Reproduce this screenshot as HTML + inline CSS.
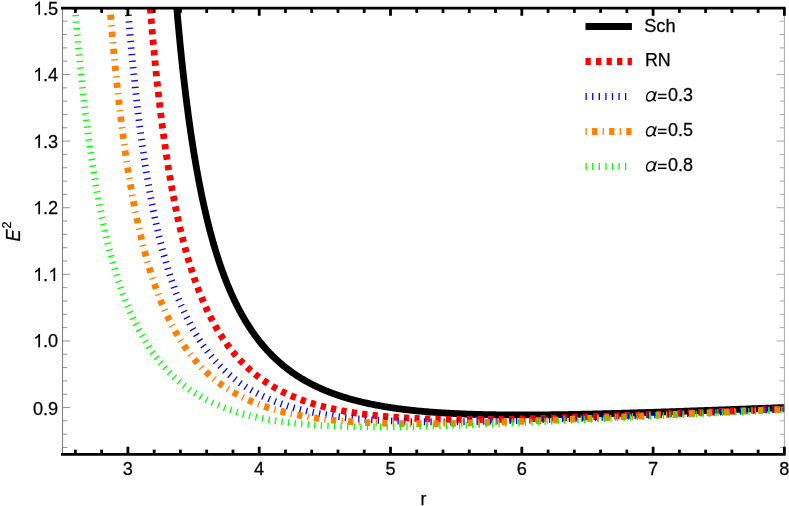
<!DOCTYPE html>
<html><head><meta charset="utf-8"><title>E2 vs r</title>
<style>
html,body{margin:0;padding:0;background:#fff;}
body{width:789px;height:506px;overflow:hidden;}
svg{display:block;will-change:transform;}
text{font-family:"Liberation Sans",sans-serif;fill:#000;stroke:#000;stroke-width:0.25px;}
</style></head><body>
<svg width="789" height="506" viewBox="0 0 789 506">
<rect width="789" height="506" fill="#fff"/>
<defs><clipPath id="pc"><rect x="62.25" y="7.89" width="722.45" height="446.29"/></clipPath></defs>
<g fill="none" stroke-width="6.8" stroke-linejoin="round" clip-path="url(#pc)">
<path d="M176.78 7.89 L176.78 7.89 L176.78 7.91 L176.78 7.93 L176.79 7.97 L176.79 8.02 L176.80 8.09 L176.80 8.17 L176.81 8.27 L176.82 8.38 L176.83 8.51 L176.85 8.65 L176.86 8.81 L176.88 8.99 L176.89 9.18 L176.91 9.39 L176.93 9.62 L176.95 9.87 L176.97 10.13 L177.00 10.41 L177.02 10.71 L177.05 11.03 L177.08 11.37 L177.11 11.72 L177.15 12.09 L177.18 12.48 L177.22 12.89 L177.25 13.32 L177.29 13.77 L177.33 14.24 L177.38 14.72 L177.42 15.23 L177.47 15.75 L177.52 16.29 L177.57 16.85 L177.62 17.43 L177.67 18.03 L177.73 18.65 L177.78 19.29 L177.84 19.94 L177.90 20.62 L177.97 21.31 L178.03 22.02 L178.10 22.75 L178.17 23.50 L178.24 24.27 L178.31 25.05 L178.38 25.86 L178.46 26.68 L178.54 27.52 L178.62 28.38 L178.70 29.25 L178.78 30.15 L178.87 31.06 L178.95 31.99 L179.04 32.94 L179.13 33.90 L179.23 34.88 L179.32 35.88 L179.42 36.89 L179.52 37.93 L179.62 38.97 L179.73 40.04 L179.83 41.12 L179.94 42.22 L180.05 43.33 L180.16 44.46 L180.27 45.60 L180.39 46.76 L180.51 47.94 L180.63 49.12 L180.75 50.33 L180.87 51.55 L181.00 52.78 L181.13 54.03 L181.26 55.29 L181.39 56.56 L181.52 57.85 L181.66 59.15 L181.80 60.47 L181.94 61.80 L182.08 63.14 L182.23 64.49 L182.37 65.85 L182.52 67.23 L182.68 68.62 L182.83 70.02 L182.99 71.43 L183.14 72.85 L183.30 74.28 L183.47 75.73 L183.63 77.18 L183.80 78.65 L183.97 80.12 L184.14 81.60 L184.31 83.10 L184.49 84.60 L184.66 86.11 L184.84 87.63 L185.03 89.15 L185.21 90.69 L185.40 92.23 L185.58 93.79 L185.78 95.34 L185.97 96.91 L186.16 98.48 L186.36 100.06 L186.56 101.65 L186.76 103.24 L186.97 104.84 L187.18 106.44 L187.39 108.05 L187.60 109.67 L187.81 111.29 L188.03 112.91 L188.24 114.54 L188.46 116.18 L188.69 117.82 L188.91 119.46 L189.14 121.10 L189.37 122.75 L189.60 124.41 L189.84 126.06 L190.07 127.72 L190.31 129.38 L190.55 131.04 L190.80 132.71 L191.04 134.38 L191.29 136.05 L191.54 137.72 L191.79 139.39 L192.05 141.06 L192.31 142.74 L192.57 144.41 L192.83 146.09 L193.09 147.76 L193.36 149.44 L193.63 151.12 L193.90 152.79 L194.18 154.47 L194.45 156.15 L194.73 157.82 L195.01 159.49 L195.30 161.17 L195.58 162.84 L195.87 164.51 L196.16 166.18 L196.45 167.84 L196.75 169.51 L197.05 171.17 L197.35 172.83 L197.65 174.49 L197.96 176.15 L198.26 177.80 L198.57 179.45 L198.89 181.10 L199.20 182.74 L199.52 184.38 L199.84 186.02 L200.16 187.65 L200.49 189.29 L200.81 190.91 L201.14 192.54 L201.47 194.15 L201.81 195.77 L202.15 197.38 L202.49 198.99 L202.83 200.59 L203.17 202.19 L203.52 203.78 L203.87 205.37 L204.22 206.95 L204.57 208.53 L204.93 210.10 L205.29 211.67 L205.65 213.23 L206.02 214.79 L206.38 216.34 L206.75 217.89 L207.12 219.43 L207.50 220.96 L207.87 222.49 L208.25 224.02 L208.64 225.53 L209.02 227.05 L209.41 228.55 L209.80 230.05 L210.19 231.54 L210.58 233.03 L210.98 234.51 L211.38 235.99 L211.78 237.45 L212.18 238.91 L212.59 240.37 L213.00 241.82 L213.41 243.26 L213.83 244.69 L214.24 246.12 L214.66 247.54 L215.09 248.96 L215.51 250.36 L215.94 251.76 L216.37 253.16 L216.80 254.54 L217.24 255.92 L217.67 257.29 L218.11 258.66 L218.56 260.02 L219.00 261.37 L219.45 262.71 L219.90 264.05 L220.35 265.38 L220.81 266.70 L221.27 268.01 L221.73 269.32 L222.19 270.62 L222.66 271.91 L223.12 273.20 L223.60 274.48 L224.07 275.75 L224.55 277.01 L225.02 278.27 L225.51 279.51 L225.99 280.76 L226.48 281.99 L226.97 283.21 L227.46 284.43 L227.95 285.64 L228.45 286.85 L228.95 288.04 L229.45 289.23 L229.96 290.41 L230.47 291.59 L230.98 292.75 L231.49 293.91 L232.00 295.06 L232.52 296.21 L233.04 297.34 L233.57 298.47 L234.09 299.59 L234.62 300.71 L235.15 301.82 L235.69 302.91 L236.23 304.01 L236.77 305.09 L237.31 306.17 L237.85 307.24 L238.40 308.30 L238.95 309.36 L239.50 310.40 L240.06 311.44 L240.62 312.48 L241.18 313.50 L241.74 314.52 L242.31 315.53 L242.88 316.54 L243.45 317.54 L244.02 318.53 L244.60 319.51 L245.18 320.48 L245.76 321.45 L246.35 322.41 L246.93 323.37 L247.52 324.32 L248.12 325.26 L248.71 326.19 L249.31 327.12 L249.91 328.04 L250.52 328.95 L251.12 329.85 L251.73 330.75 L252.34 331.64 L252.96 332.53 L253.58 333.41 L254.20 334.28 L254.82 335.14 L255.45 336.00 L256.07 336.85 L256.71 337.70 L257.34 338.54 L257.98 339.37 L258.61 340.19 L259.26 341.01 L259.90 341.82 L260.55 342.63 L261.20 343.43 L261.85 344.22 L262.51 345.01 L263.17 345.79 L263.83 346.56 L264.49 347.33 L265.16 348.09 L265.83 348.84 L266.50 349.59 L267.18 350.33 L267.85 351.07 L268.53 351.80 L269.22 352.52 L269.90 353.24 L270.59 353.95 L271.28 354.66 L271.98 355.36 L272.68 356.05 L273.38 356.74 L274.08 357.42 L274.78 358.10 L275.49 358.77 L276.20 359.43 L276.92 360.09 L277.63 360.75 L278.35 361.39 L279.08 362.04 L279.80 362.67 L280.53 363.30 L281.26 363.93 L281.99 364.55 L282.73 365.16 L283.47 365.77 L284.21 366.37 L284.95 366.97 L285.70 367.56 L286.45 368.15 L287.20 368.73 L287.96 369.31 L288.72 369.88 L289.48 370.45 L290.25 371.01 L291.01 371.56 L291.78 372.11 L292.56 372.66 L293.33 373.20 L294.11 373.74 L294.89 374.27 L295.67 374.79 L296.46 375.31 L297.25 375.83 L298.04 376.34 L298.84 376.85 L299.64 377.35 L300.44 377.84 L301.24 378.34 L302.05 378.82 L302.86 379.30 L303.67 379.78 L304.49 380.26 L305.30 380.72 L306.13 381.19 L306.95 381.65 L307.78 382.10 L308.61 382.55 L309.44 383.00 L310.27 383.44 L311.11 383.88 L311.95 384.31 L312.80 384.74 L313.64 385.17 L314.49 385.59 L315.35 386.00 L316.20 386.41 L317.06 386.82 L317.92 387.22 L318.78 387.62 L319.65 388.02 L320.52 388.41 L321.39 388.80 L322.27 389.18 L323.15 389.56 L324.03 389.94 L324.91 390.31 L325.80 390.67 L326.69 391.04 L327.58 391.40 L328.48 391.75 L329.38 392.11 L330.28 392.45 L331.18 392.80 L332.09 393.14 L333.00 393.48 L333.91 393.81 L334.83 394.14 L335.75 394.47 L336.67 394.79 L337.59 395.11 L338.52 395.43 L339.45 395.74 L340.39 396.05 L341.32 396.35 L342.26 396.65 L343.20 396.95 L344.15 397.25 L345.10 397.54 L346.05 397.83 L347.00 398.11 L347.96 398.40 L348.92 398.67 L349.88 398.95 L350.85 399.22 L351.81 399.49 L352.79 399.76 L353.76 400.02 L354.74 400.28 L355.72 400.54 L356.70 400.79 L357.69 401.04 L358.68 401.29 L359.67 401.53 L360.66 401.78 L361.66 402.02 L362.66 402.25 L363.66 402.48 L364.67 402.71 L365.68 402.94 L366.69 403.17 L367.71 403.39 L368.73 403.61 L369.75 403.82 L370.77 404.04 L371.80 404.25 L372.83 404.45 L373.87 404.66 L374.90 404.86 L375.94 405.06 L376.98 405.26 L378.03 405.45 L379.08 405.65 L380.13 405.84 L381.18 406.02 L382.24 406.21 L383.30 406.39 L384.36 406.57 L385.43 406.75 L386.50 406.92 L387.57 407.09 L388.64 407.26 L389.72 407.43 L390.80 407.60 L391.89 407.76 L392.97 407.92 L394.06 408.08 L395.16 408.23 L396.25 408.39 L397.35 408.54 L398.45 408.69 L399.56 408.83 L400.67 408.98 L401.78 409.12 L402.89 409.26 L404.01 409.40 L405.13 409.54 L406.25 409.67 L407.38 409.80 L408.50 409.93 L409.64 410.06 L410.77 410.19 L411.91 410.31 L413.05 410.43 L414.19 410.55 L415.34 410.67 L416.49 410.78 L417.64 410.90 L418.80 411.01 L419.96 411.12 L421.12 411.23 L422.29 411.33 L423.45 411.44 L424.62 411.54 L425.80 411.64 L426.98 411.74 L428.16 411.84 L429.34 411.93 L430.53 412.03 L431.71 412.12 L432.91 412.21 L434.10 412.30 L435.30 412.38 L436.50 412.47 L437.71 412.55 L438.91 412.63 L440.12 412.71 L441.34 412.79 L442.55 412.87 L443.77 412.94 L445.00 413.01 L446.22 413.09 L447.45 413.16 L448.68 413.23 L449.92 413.29 L451.16 413.36 L452.40 413.42 L453.64 413.48 L454.89 413.55 L456.14 413.60 L457.39 413.66 L458.65 413.72 L459.91 413.77 L461.17 413.83 L462.44 413.88 L463.70 413.93 L464.98 413.98 L466.25 414.03 L467.53 414.08 L468.81 414.12 L470.09 414.17 L471.38 414.21 L472.67 414.25 L473.96 414.29 L475.26 414.33 L476.56 414.37 L477.86 414.40 L479.17 414.44 L480.47 414.47 L481.79 414.50 L483.10 414.53 L484.42 414.56 L485.74 414.59 L487.06 414.62 L488.39 414.65 L489.72 414.67 L491.05 414.70 L492.39 414.72 L493.73 414.74 L495.07 414.76 L496.42 414.78 L497.77 414.80 L499.12 414.82 L500.47 414.83 L501.83 414.85 L503.19 414.86 L504.56 414.88 L505.92 414.89 L507.29 414.90 L508.67 414.91 L510.04 414.92 L511.42 414.92 L512.81 414.93 L514.19 414.94 L515.58 414.94 L516.97 414.95 L518.37 414.95 L519.77 414.95 L521.17 414.95 L522.57 414.95 L523.98 414.95 L525.39 414.95 L526.81 414.95 L528.22 414.94 L529.64 414.94 L531.07 414.93 L532.49 414.92 L533.92 414.92 L535.36 414.91 L536.79 414.90 L538.23 414.89 L539.67 414.88 L541.12 414.87 L542.57 414.86 L544.02 414.84 L545.47 414.83 L546.93 414.81 L548.39 414.80 L549.86 414.78 L551.32 414.76 L552.79 414.75 L554.27 414.73 L555.74 414.71 L557.22 414.69 L558.71 414.67 L560.19 414.65 L561.68 414.62 L563.17 414.60 L564.67 414.58 L566.17 414.55 L567.67 414.53 L569.17 414.50 L570.68 414.47 L572.19 414.45 L573.71 414.42 L575.23 414.39 L576.75 414.36 L578.27 414.33 L579.80 414.30 L581.33 414.27 L582.86 414.24 L584.40 414.20 L585.94 414.17 L587.48 414.14 L589.03 414.10 L590.58 414.07 L592.13 414.03 L593.68 414.00 L595.24 413.96 L596.80 413.92 L598.37 413.88 L599.94 413.85 L601.51 413.81 L603.08 413.77 L604.66 413.73 L606.24 413.69 L607.83 413.65 L609.41 413.60 L611.01 413.56 L612.60 413.52 L614.20 413.47 L615.80 413.43 L617.40 413.39 L619.01 413.34 L620.62 413.30 L622.23 413.25 L623.84 413.20 L625.46 413.16 L627.09 413.11 L628.71 413.06 L630.34 413.02 L631.97 412.97 L633.61 412.92 L635.25 412.87 L636.89 412.82 L638.53 412.77 L640.18 412.72 L641.83 412.67 L643.49 412.61 L645.14 412.56 L646.81 412.51 L648.47 412.46 L650.14 412.40 L651.81 412.35 L653.48 412.30 L655.16 412.24 L656.84 412.19 L658.52 412.13 L660.21 412.08 L661.90 412.02 L663.59 411.96 L665.29 411.91 L666.99 411.85 L668.69 411.79 L670.39 411.73 L672.10 411.68 L673.82 411.62 L675.53 411.56 L677.25 411.50 L678.97 411.44 L680.70 411.38 L682.43 411.32 L684.16 411.26 L685.89 411.20 L687.63 411.14 L689.37 411.08 L691.12 411.02 L692.86 410.95 L694.62 410.89 L696.37 410.83 L698.13 410.77 L699.89 410.70 L701.65 410.64 L703.42 410.58 L705.19 410.51 L706.96 410.45 L708.74 410.38 L710.52 410.32 L712.30 410.25 L714.09 410.19 L715.88 410.12 L717.67 410.06 L719.47 409.99 L721.27 409.92 L723.07 409.86 L724.88 409.79 L726.69 409.72 L728.50 409.66 L730.32 409.59 L732.14 409.52 L733.96 409.45 L735.78 409.39 L737.61 409.32 L739.45 409.25 L741.28 409.18 L743.12 409.11 L744.96 409.04 L746.81 408.97 L748.66 408.90 L750.51 408.83 L752.36 408.76 L754.22 408.69 L756.08 408.62 L757.95 408.55 L759.82 408.48 L761.69 408.41 L763.56 408.34 L765.44 408.27 L767.32 408.20 L769.21 408.13 L771.09 408.06 L772.98 407.98 L774.88 407.91 L776.78 407.84 L778.68 407.77 L780.58 407.70 L782.49 407.62 L784.40 407.55" stroke="#000"/>
<path d="M150.29 7.89 L150.29 7.89 L150.29 7.91 L150.29 7.94 L150.30 7.98 L150.30 8.04 L150.31 8.12 L150.31 8.21 L150.32 8.32 L150.33 8.44 L150.34 8.59 L150.36 8.75 L150.37 8.93 L150.39 9.13 L150.40 9.35 L150.42 9.58 L150.44 9.84 L150.47 10.12 L150.49 10.42 L150.52 10.73 L150.54 11.07 L150.57 11.43 L150.60 11.81 L150.63 12.21 L150.67 12.63 L150.70 13.07 L150.74 13.53 L150.78 14.02 L150.82 14.52 L150.87 15.05 L150.91 15.59 L150.96 16.16 L151.01 16.75 L151.06 17.36 L151.11 17.99 L151.16 18.64 L151.22 19.31 L151.28 20.01 L151.33 20.72 L151.40 21.46 L151.46 22.22 L151.53 22.99 L151.59 23.79 L151.66 24.61 L151.73 25.45 L151.81 26.31 L151.88 27.19 L151.96 28.09 L152.04 29.01 L152.12 29.95 L152.20 30.91 L152.29 31.89 L152.37 32.89 L152.46 33.91 L152.56 34.95 L152.65 36.01 L152.74 37.08 L152.84 38.18 L152.94 39.29 L153.04 40.42 L153.15 41.57 L153.25 42.74 L153.36 43.93 L153.47 45.13 L153.58 46.35 L153.70 47.59 L153.81 48.84 L153.93 50.11 L154.05 51.40 L154.18 52.70 L154.30 54.02 L154.43 55.36 L154.56 56.71 L154.69 58.07 L154.82 59.45 L154.96 60.85 L155.10 62.26 L155.24 63.68 L155.38 65.12 L155.53 66.57 L155.67 68.03 L155.82 69.51 L155.97 71.00 L156.13 72.50 L156.28 74.02 L156.44 75.54 L156.60 77.08 L156.76 78.63 L156.93 80.19 L157.10 81.77 L157.26 83.35 L157.44 84.94 L157.61 86.54 L157.79 88.16 L157.97 89.78 L158.15 91.41 L158.33 93.05 L158.51 94.70 L158.70 96.36 L158.89 98.02 L159.08 99.69 L159.28 101.37 L159.48 103.06 L159.68 104.76 L159.88 106.46 L160.08 108.16 L160.29 109.88 L160.50 111.60 L160.71 113.32 L160.92 115.05 L161.14 116.79 L161.35 118.53 L161.58 120.27 L161.80 122.02 L162.02 123.77 L162.25 125.53 L162.48 127.29 L162.71 129.05 L162.95 130.82 L163.19 132.58 L163.43 134.35 L163.67 136.13 L163.91 137.90 L164.16 139.68 L164.41 141.46 L164.66 143.24 L164.91 145.02 L165.17 146.80 L165.43 148.58 L165.69 150.36 L165.96 152.14 L166.22 153.93 L166.49 155.71 L166.76 157.49 L167.04 159.27 L167.31 161.05 L167.59 162.83 L167.87 164.60 L168.15 166.38 L168.44 168.15 L168.73 169.92 L169.02 171.69 L169.31 173.46 L169.61 175.22 L169.91 176.99 L170.21 178.75 L170.51 180.50 L170.82 182.25 L171.13 184.00 L171.44 185.75 L171.75 187.49 L172.07 189.23 L172.39 190.97 L172.71 192.70 L173.03 194.42 L173.36 196.14 L173.69 197.86 L174.02 199.57 L174.35 201.28 L174.69 202.98 L175.03 204.68 L175.37 206.37 L175.71 208.06 L176.06 209.74 L176.41 211.42 L176.76 213.09 L177.11 214.75 L177.47 216.41 L177.83 218.06 L178.19 219.71 L178.56 221.35 L178.92 222.98 L179.29 224.61 L179.67 226.23 L180.04 227.85 L180.42 229.45 L180.80 231.05 L181.18 232.65 L181.57 234.23 L181.95 235.81 L182.34 237.39 L182.74 238.95 L183.13 240.51 L183.53 242.06 L183.93 243.61 L184.34 245.14 L184.74 246.67 L185.15 248.19 L185.56 249.71 L185.98 251.21 L186.39 252.71 L186.81 254.20 L187.23 255.69 L187.66 257.16 L188.09 258.63 L188.52 260.09 L188.95 261.54 L189.38 262.98 L189.82 264.42 L190.26 265.85 L190.71 267.27 L191.15 268.68 L191.60 270.08 L192.05 271.48 L192.51 272.86 L192.96 274.24 L193.42 275.61 L193.88 276.98 L194.35 278.33 L194.82 279.68 L195.29 281.01 L195.76 282.34 L196.23 283.66 L196.71 284.98 L197.19 286.28 L197.68 287.58 L198.16 288.86 L198.65 290.14 L199.14 291.41 L199.64 292.68 L200.14 293.93 L200.64 295.18 L201.14 296.42 L201.64 297.65 L202.15 298.87 L202.66 300.08 L203.18 301.28 L203.69 302.48 L204.21 303.67 L204.73 304.85 L205.26 306.02 L205.78 307.18 L206.31 308.34 L206.85 309.48 L207.38 310.62 L207.92 311.75 L208.46 312.87 L209.00 313.99 L209.55 315.09 L210.10 316.19 L210.65 317.28 L211.21 318.36 L211.76 319.44 L212.32 320.50 L212.89 321.56 L213.45 322.61 L214.02 323.65 L214.59 324.68 L215.17 325.71 L215.74 326.73 L216.32 327.74 L216.91 328.74 L217.49 329.73 L218.08 330.72 L218.67 331.70 L219.26 332.67 L219.86 333.63 L220.46 334.59 L221.06 335.53 L221.67 336.47 L222.28 337.41 L222.89 338.33 L223.50 339.25 L224.12 340.16 L224.73 341.06 L225.36 341.96 L225.98 342.84 L226.61 343.72 L227.24 344.60 L227.87 345.46 L228.51 346.32 L229.15 347.17 L229.79 348.02 L230.43 348.85 L231.08 349.68 L231.73 350.51 L232.38 351.32 L233.04 352.13 L233.70 352.93 L234.36 353.73 L235.02 354.51 L235.69 355.30 L236.36 356.07 L237.03 356.84 L237.71 357.60 L238.39 358.35 L239.07 359.10 L239.75 359.84 L240.44 360.57 L241.13 361.30 L241.82 362.02 L242.52 362.74 L243.22 363.44 L243.92 364.15 L244.62 364.84 L245.33 365.53 L246.04 366.21 L246.76 366.89 L247.47 367.56 L248.19 368.22 L248.91 368.88 L249.64 369.53 L250.36 370.18 L251.09 370.82 L251.83 371.45 L252.56 372.08 L253.30 372.70 L254.05 373.31 L254.79 373.92 L255.54 374.53 L256.29 375.12 L257.04 375.72 L257.80 376.30 L258.56 376.88 L259.32 377.46 L260.09 378.03 L260.86 378.59 L261.63 379.15 L262.40 379.70 L263.18 380.25 L263.96 380.79 L264.74 381.33 L265.53 381.86 L266.32 382.39 L267.11 382.91 L267.90 383.42 L268.70 383.93 L269.50 384.44 L270.30 384.94 L271.11 385.43 L271.92 385.92 L272.73 386.41 L273.55 386.89 L274.37 387.36 L275.19 387.83 L276.01 388.30 L276.84 388.76 L277.67 389.21 L278.50 389.66 L279.34 390.11 L280.18 390.55 L281.02 390.99 L281.86 391.42 L282.71 391.84 L283.56 392.27 L284.42 392.69 L285.27 393.10 L286.13 393.51 L286.99 393.91 L287.86 394.31 L288.73 394.71 L289.60 395.10 L290.48 395.49 L291.35 395.87 L292.23 396.25 L293.12 396.62 L294.00 396.99 L294.89 397.36 L295.79 397.72 L296.68 398.08 L297.58 398.43 L298.48 398.78 L299.39 399.12 L300.29 399.46 L301.21 399.80 L302.12 400.14 L303.04 400.47 L303.96 400.79 L304.88 401.11 L305.80 401.43 L306.73 401.75 L307.66 402.06 L308.60 402.36 L309.54 402.67 L310.48 402.97 L311.42 403.26 L312.37 403.55 L313.32 403.84 L314.27 404.13 L315.23 404.41 L316.19 404.69 L317.15 404.96 L318.11 405.23 L319.08 405.50 L320.05 405.76 L321.03 406.03 L322.00 406.28 L322.98 406.54 L323.97 406.79 L324.95 407.04 L325.94 407.28 L326.93 407.52 L327.93 407.76 L328.93 408.00 L329.93 408.23 L330.93 408.46 L331.94 408.68 L332.95 408.91 L333.97 409.13 L334.98 409.34 L336.00 409.56 L337.03 409.77 L338.05 409.97 L339.08 410.18 L340.11 410.38 L341.15 410.58 L342.19 410.78 L343.23 410.97 L344.27 411.16 L345.32 411.35 L346.37 411.53 L347.42 411.72 L348.48 411.90 L349.54 412.07 L350.60 412.25 L351.67 412.42 L352.74 412.59 L353.81 412.76 L354.89 412.92 L355.97 413.08 L357.05 413.24 L358.13 413.40 L359.22 413.55 L360.31 413.70 L361.40 413.85 L362.50 414.00 L363.60 414.14 L364.70 414.29 L365.81 414.43 L366.92 414.56 L368.03 414.70 L369.15 414.83 L370.27 414.96 L371.39 415.09 L372.51 415.22 L373.64 415.34 L374.77 415.46 L375.91 415.58 L377.04 415.70 L378.18 415.81 L379.33 415.93 L380.48 416.04 L381.62 416.14 L382.78 416.25 L383.93 416.36 L385.09 416.46 L386.26 416.56 L387.42 416.66 L388.59 416.75 L389.76 416.85 L390.94 416.94 L392.11 417.03 L393.30 417.12 L394.48 417.21 L395.67 417.29 L396.86 417.38 L398.05 417.46 L399.25 417.54 L400.45 417.61 L401.65 417.69 L402.86 417.76 L404.07 417.84 L405.28 417.91 L406.50 417.98 L407.72 418.04 L408.94 418.11 L410.16 418.17 L411.39 418.23 L412.62 418.29 L413.86 418.35 L415.10 418.41 L416.34 418.47 L417.58 418.52 L418.83 418.57 L420.08 418.62 L421.33 418.67 L422.59 418.72 L423.85 418.77 L425.11 418.81 L426.38 418.85 L427.65 418.89 L428.92 418.93 L430.20 418.97 L431.48 419.01 L432.76 419.05 L434.05 419.08 L435.33 419.11 L436.63 419.15 L437.92 419.18 L439.22 419.20 L440.52 419.23 L441.83 419.26 L443.13 419.28 L444.45 419.31 L445.76 419.33 L447.08 419.35 L448.40 419.37 L449.72 419.39 L451.05 419.40 L452.38 419.42 L453.71 419.43 L455.05 419.45 L456.39 419.46 L457.73 419.47 L459.08 419.48 L460.43 419.49 L461.78 419.50 L463.14 419.50 L464.50 419.51 L465.86 419.51 L467.22 419.52 L468.59 419.52 L469.96 419.52 L471.34 419.52 L472.72 419.52 L474.10 419.51 L475.48 419.51 L476.87 419.51 L478.26 419.50 L479.66 419.49 L481.06 419.49 L482.46 419.48 L483.86 419.47 L485.27 419.46 L486.68 419.44 L488.09 419.43 L489.51 419.42 L490.93 419.40 L492.35 419.39 L493.78 419.37 L495.21 419.35 L496.65 419.34 L498.08 419.32 L499.52 419.30 L500.96 419.28 L502.41 419.25 L503.86 419.23 L505.31 419.21 L506.77 419.18 L508.23 419.16 L509.69 419.13 L511.16 419.11 L512.63 419.08 L514.10 419.05 L515.57 419.02 L517.05 418.99 L518.54 418.96 L520.02 418.93 L521.51 418.90 L523.00 418.86 L524.50 418.83 L526.00 418.79 L527.50 418.76 L529.00 418.72 L530.51 418.69 L532.02 418.65 L533.54 418.61 L535.05 418.57 L536.58 418.53 L538.10 418.49 L539.63 418.45 L541.16 418.41 L542.69 418.37 L544.23 418.32 L545.77 418.28 L547.32 418.24 L548.87 418.19 L550.42 418.15 L551.97 418.10 L553.53 418.05 L555.09 418.01 L556.65 417.96 L558.22 417.91 L559.79 417.86 L561.36 417.81 L562.94 417.76 L564.52 417.71 L566.11 417.66 L567.69 417.61 L569.28 417.56 L570.88 417.50 L572.47 417.45 L574.07 417.39 L575.68 417.34 L577.28 417.29 L578.89 417.23 L580.51 417.17 L582.13 417.12 L583.75 417.06 L585.37 417.00 L587.00 416.95 L588.63 416.89 L590.26 416.83 L591.90 416.77 L593.54 416.71 L595.18 416.65 L596.83 416.59 L598.48 416.53 L600.13 416.47 L601.79 416.40 L603.45 416.34 L605.11 416.28 L606.78 416.21 L608.44 416.15 L610.12 416.09 L611.79 416.02 L613.47 415.96 L615.16 415.89 L616.84 415.83 L618.53 415.76 L620.23 415.69 L621.92 415.63 L623.62 415.56 L625.33 415.49 L627.03 415.42 L628.74 415.36 L630.46 415.29 L632.17 415.22 L633.89 415.15 L635.62 415.08 L637.34 415.01 L639.07 414.94 L640.81 414.87 L642.54 414.80 L644.28 414.73 L646.03 414.66 L647.77 414.58 L649.52 414.51 L651.28 414.44 L653.03 414.37 L654.79 414.29 L656.56 414.22 L658.32 414.15 L660.09 414.07 L661.87 414.00 L663.64 413.93 L665.42 413.85 L667.21 413.78 L668.99 413.70 L670.78 413.63 L672.58 413.55 L674.38 413.47 L676.18 413.40 L677.98 413.32 L679.79 413.25 L681.60 413.17 L683.41 413.09 L685.23 413.01 L687.05 412.94 L688.87 412.86 L690.70 412.78 L692.53 412.70 L694.37 412.63 L696.20 412.55 L698.04 412.47 L699.89 412.39 L701.74 412.31 L703.59 412.23 L705.44 412.15 L707.30 412.07 L709.16 411.99 L711.03 411.91 L712.89 411.83 L714.76 411.75 L716.64 411.67 L718.52 411.59 L720.40 411.51 L722.28 411.43 L724.17 411.35 L726.06 411.27 L727.96 411.18 L729.86 411.10 L731.76 411.02 L733.67 410.94 L735.57 410.86 L737.49 410.77 L739.40 410.69 L741.32 410.61 L743.24 410.53 L745.17 410.44 L747.10 410.36 L749.03 410.28 L750.97 410.20 L752.91 410.11 L754.85 410.03 L756.79 409.95 L758.74 409.86 L760.70 409.78 L762.65 409.69 L764.61 409.61 L766.58 409.53 L768.54 409.44 L770.51 409.36 L772.49 409.27 L774.46 409.19 L776.44 409.11 L778.43 409.02 L780.42 408.94 L782.41 408.85 L784.40 408.77" stroke="#ff0000" stroke-dasharray="5.26 5.26" stroke-dashoffset="-0.25"/>
<path d="M127.86 7.89 L127.86 7.89 L127.86 7.91 L127.86 7.94 L127.87 7.99 L127.87 8.05 L127.88 8.13 L127.89 8.22 L127.89 8.34 L127.91 8.47 L127.92 8.62 L127.93 8.79 L127.95 8.98 L127.96 9.19 L127.98 9.42 L128.00 9.67 L128.02 9.94 L128.04 10.23 L128.07 10.54 L128.10 10.87 L128.12 11.23 L128.15 11.61 L128.19 12.00 L128.22 12.42 L128.25 12.86 L128.29 13.32 L128.33 13.81 L128.37 14.32 L128.41 14.84 L128.46 15.40 L128.50 15.97 L128.55 16.56 L128.60 17.18 L128.65 17.82 L128.71 18.48 L128.76 19.16 L128.82 19.87 L128.88 20.59 L128.94 21.34 L129.01 22.11 L129.07 22.91 L129.14 23.72 L129.21 24.56 L129.28 25.41 L129.36 26.29 L129.43 27.19 L129.51 28.11 L129.59 29.06 L129.67 30.02 L129.76 31.00 L129.84 32.01 L129.93 33.03 L130.02 34.08 L130.11 35.14 L130.21 36.23 L130.30 37.33 L130.40 38.46 L130.50 39.60 L130.61 40.77 L130.71 41.95 L130.82 43.15 L130.93 44.37 L131.04 45.60 L131.16 46.86 L131.27 48.13 L131.39 49.42 L131.51 50.73 L131.63 52.06 L131.76 53.40 L131.89 54.76 L132.02 56.13 L132.15 57.52 L132.28 58.93 L132.42 60.35 L132.56 61.79 L132.70 63.24 L132.84 64.71 L132.98 66.19 L133.13 67.69 L133.28 69.20 L133.43 70.72 L133.59 72.25 L133.75 73.80 L133.90 75.37 L134.07 76.94 L134.23 78.53 L134.40 80.12 L134.56 81.73 L134.73 83.35 L134.91 84.99 L135.08 86.63 L135.26 88.28 L135.44 89.94 L135.62 91.61 L135.81 93.29 L136.00 94.98 L136.19 96.68 L136.38 98.39 L136.57 100.11 L136.77 101.83 L136.97 103.56 L137.17 105.30 L137.37 107.05 L137.58 108.80 L137.79 110.56 L138.00 112.32 L138.21 114.09 L138.43 115.87 L138.65 117.65 L138.87 119.43 L139.09 121.23 L139.32 123.02 L139.55 124.82 L139.78 126.62 L140.01 128.43 L140.25 130.24 L140.48 132.05 L140.73 133.87 L140.97 135.69 L141.21 137.51 L141.46 139.33 L141.71 141.15 L141.97 142.98 L142.22 144.81 L142.48 146.63 L142.74 148.46 L143.00 150.29 L143.27 152.12 L143.54 153.95 L143.81 155.78 L144.08 157.61 L144.36 159.44 L144.64 161.26 L144.92 163.09 L145.20 164.92 L145.49 166.74 L145.77 168.56 L146.06 170.38 L146.36 172.20 L146.65 174.01 L146.95 175.83 L147.25 177.64 L147.56 179.44 L147.87 181.25 L148.17 183.05 L148.49 184.84 L148.80 186.64 L149.12 188.43 L149.44 190.21 L149.76 192.00 L150.08 193.77 L150.41 195.55 L150.74 197.31 L151.07 199.08 L151.41 200.84 L151.75 202.59 L152.09 204.34 L152.43 206.08 L152.77 207.82 L153.12 209.55 L153.47 211.28 L153.83 213.00 L154.18 214.71 L154.54 216.42 L154.90 218.12 L155.27 219.82 L155.63 221.51 L156.00 223.19 L156.38 224.87 L156.75 226.54 L157.13 228.20 L157.51 229.86 L157.89 231.50 L158.28 233.15 L158.66 234.78 L159.06 236.41 L159.45 238.03 L159.85 239.64 L160.24 241.25 L160.65 242.84 L161.05 244.43 L161.46 246.01 L161.87 247.59 L162.28 249.15 L162.69 250.71 L163.11 252.26 L163.53 253.81 L163.96 255.34 L164.38 256.87 L164.81 258.39 L165.24 259.90 L165.68 261.40 L166.11 262.89 L166.55 264.38 L167.00 265.85 L167.44 267.32 L167.89 268.78 L168.34 270.23 L168.79 271.68 L169.25 273.11 L169.71 274.54 L170.17 275.95 L170.63 277.36 L171.10 278.76 L171.57 280.15 L172.04 281.54 L172.52 282.91 L173.00 284.28 L173.48 285.63 L173.96 286.98 L174.45 288.32 L174.94 289.65 L175.43 290.97 L175.93 292.29 L176.42 293.59 L176.93 294.89 L177.43 296.17 L177.93 297.45 L178.44 298.72 L178.96 299.98 L179.47 301.23 L179.99 302.48 L180.51 303.71 L181.03 304.94 L181.56 306.16 L182.09 307.37 L182.62 308.57 L183.15 309.76 L183.69 310.94 L184.23 312.11 L184.77 313.28 L185.32 314.44 L185.87 315.58 L186.42 316.72 L186.97 317.86 L187.53 318.98 L188.09 320.09 L188.65 321.20 L189.22 322.30 L189.79 323.39 L190.36 324.47 L190.93 325.54 L191.51 326.60 L192.09 327.66 L192.67 328.71 L193.26 329.74 L193.85 330.78 L194.44 331.80 L195.03 332.81 L195.63 333.82 L196.23 334.82 L196.84 335.81 L197.44 336.79 L198.05 337.76 L198.66 338.73 L199.28 339.69 L199.89 340.64 L200.51 341.58 L201.14 342.51 L201.76 343.44 L202.39 344.36 L203.03 345.27 L203.66 346.17 L204.30 347.07 L204.94 347.96 L205.58 348.84 L206.23 349.71 L206.88 350.58 L207.53 351.43 L208.19 352.28 L208.85 353.13 L209.51 353.96 L210.17 354.79 L210.84 355.61 L211.51 356.42 L212.18 357.23 L212.86 358.03 L213.54 358.82 L214.22 359.61 L214.90 360.39 L215.59 361.16 L216.28 361.92 L216.98 362.68 L217.67 363.43 L218.37 364.17 L219.08 364.91 L219.78 365.63 L220.49 366.36 L221.20 367.07 L221.92 367.78 L222.63 368.48 L223.35 369.18 L224.08 369.87 L224.80 370.55 L225.53 371.23 L226.27 371.90 L227.00 372.56 L227.74 373.22 L228.48 373.87 L229.22 374.51 L229.97 375.15 L230.72 375.78 L231.48 376.41 L232.23 377.03 L232.99 377.64 L233.75 378.25 L234.52 378.85 L235.29 379.45 L236.06 380.04 L236.83 380.62 L237.61 381.20 L238.39 381.77 L239.17 382.34 L239.96 382.90 L240.75 383.45 L241.54 384.00 L242.34 384.55 L243.14 385.08 L243.94 385.62 L244.74 386.14 L245.55 386.66 L246.36 387.18 L247.17 387.69 L247.99 388.20 L248.81 388.70 L249.63 389.19 L250.46 389.68 L251.29 390.16 L252.12 390.64 L252.96 391.12 L253.79 391.59 L254.63 392.05 L255.48 392.51 L256.33 392.96 L257.18 393.41 L258.03 393.86 L258.89 394.29 L259.75 394.73 L260.61 395.16 L261.47 395.58 L262.34 396.00 L263.21 396.42 L264.09 396.83 L264.97 397.23 L265.85 397.63 L266.73 398.03 L267.62 398.42 L268.51 398.81 L269.40 399.19 L270.30 399.57 L271.20 399.95 L272.10 400.32 L273.01 400.68 L273.91 401.04 L274.83 401.40 L275.74 401.75 L276.66 402.10 L277.58 402.45 L278.50 402.79 L279.43 403.12 L280.36 403.46 L281.30 403.78 L282.23 404.11 L283.17 404.43 L284.11 404.74 L285.06 405.06 L286.01 405.37 L286.96 405.67 L287.92 405.97 L288.88 406.27 L289.84 406.56 L290.80 406.85 L291.77 407.14 L292.74 407.42 L293.71 407.70 L294.69 407.97 L295.67 408.24 L296.66 408.51 L297.64 408.77 L298.63 409.04 L299.63 409.29 L300.62 409.55 L301.62 409.80 L302.62 410.04 L303.63 410.29 L304.64 410.53 L305.65 410.76 L306.66 411.00 L307.68 411.23 L308.70 411.46 L309.73 411.68 L310.75 411.90 L311.78 412.12 L312.82 412.33 L313.86 412.55 L314.90 412.75 L315.94 412.96 L316.99 413.16 L318.04 413.36 L319.09 413.56 L320.14 413.75 L321.20 413.94 L322.27 414.13 L323.33 414.31 L324.40 414.50 L325.47 414.67 L326.55 414.85 L327.62 415.02 L328.71 415.20 L329.79 415.36 L330.88 415.53 L331.97 415.69 L333.06 415.85 L334.16 416.01 L335.26 416.16 L336.37 416.32 L337.47 416.47 L338.58 416.61 L339.70 416.76 L340.81 416.90 L341.93 417.04 L343.05 417.18 L344.18 417.31 L345.31 417.44 L346.44 417.57 L347.58 417.70 L348.72 417.83 L349.86 417.95 L351.01 418.07 L352.15 418.19 L353.31 418.31 L354.46 418.42 L355.62 418.53 L356.78 418.64 L357.95 418.75 L359.11 418.85 L360.28 418.95 L361.46 419.06 L362.64 419.15 L363.82 419.25 L365.00 419.34 L366.19 419.44 L367.38 419.53 L368.57 419.62 L369.77 419.70 L370.97 419.79 L372.17 419.87 L373.38 419.95 L374.59 420.03 L375.80 420.10 L377.02 420.18 L378.24 420.25 L379.46 420.32 L380.69 420.39 L381.92 420.46 L383.15 420.52 L384.39 420.59 L385.63 420.65 L386.87 420.71 L388.11 420.77 L389.36 420.83 L390.62 420.88 L391.87 420.93 L393.13 420.98 L394.39 421.03 L395.66 421.08 L396.93 421.13 L398.20 421.17 L399.47 421.22 L400.75 421.26 L402.03 421.30 L403.32 421.34 L404.61 421.38 L405.90 421.41 L407.19 421.44 L408.49 421.48 L409.79 421.51 L411.10 421.54 L412.41 421.57 L413.72 421.59 L415.03 421.62 L416.35 421.64 L417.67 421.66 L419.00 421.69 L420.32 421.71 L421.65 421.72 L422.99 421.74 L424.33 421.76 L425.67 421.77 L427.01 421.78 L428.36 421.79 L429.71 421.81 L431.06 421.81 L432.42 421.82 L433.78 421.83 L435.15 421.83 L436.51 421.84 L437.88 421.84 L439.26 421.84 L440.64 421.84 L442.02 421.84 L443.40 421.84 L444.79 421.84 L446.18 421.83 L447.57 421.83 L448.97 421.82 L450.37 421.81 L451.77 421.81 L453.18 421.80 L454.59 421.79 L456.00 421.77 L457.42 421.76 L458.84 421.75 L460.27 421.73 L461.69 421.72 L463.12 421.70 L464.56 421.68 L466.00 421.66 L467.44 421.64 L468.88 421.62 L470.33 421.60 L471.78 421.58 L473.23 421.55 L474.69 421.53 L476.15 421.50 L477.61 421.48 L479.08 421.45 L480.55 421.42 L482.03 421.39 L483.50 421.36 L484.98 421.33 L486.47 421.30 L487.95 421.26 L489.45 421.23 L490.94 421.20 L492.44 421.16 L493.94 421.13 L495.44 421.09 L496.95 421.05 L498.46 421.01 L499.98 420.97 L501.49 420.93 L503.01 420.89 L504.54 420.85 L506.07 420.81 L507.60 420.77 L509.13 420.72 L510.67 420.68 L512.21 420.63 L513.76 420.59 L515.30 420.54 L516.86 420.49 L518.41 420.45 L519.97 420.40 L521.53 420.35 L523.10 420.30 L524.66 420.25 L526.24 420.20 L527.81 420.15 L529.39 420.09 L530.97 420.04 L532.56 419.99 L534.15 419.93 L535.74 419.88 L537.33 419.82 L538.93 419.77 L540.53 419.71 L542.14 419.65 L543.75 419.60 L545.36 419.54 L546.98 419.48 L548.60 419.42 L550.22 419.36 L551.85 419.30 L553.48 419.24 L555.11 419.18 L556.74 419.11 L558.38 419.05 L560.03 418.99 L561.67 418.93 L563.32 418.86 L564.98 418.80 L566.63 418.73 L568.30 418.67 L569.96 418.60 L571.63 418.53 L573.30 418.47 L574.97 418.40 L576.65 418.33 L578.33 418.26 L580.01 418.20 L581.70 418.13 L583.39 418.06 L585.09 417.99 L586.78 417.92 L588.49 417.85 L590.19 417.78 L591.90 417.70 L593.61 417.63 L595.33 417.56 L597.04 417.49 L598.77 417.42 L600.49 417.34 L602.22 417.27 L603.95 417.19 L605.69 417.12 L607.43 417.04 L609.17 416.97 L610.92 416.89 L612.67 416.82 L614.42 416.74 L616.18 416.67 L617.94 416.59 L619.70 416.51 L621.47 416.44 L623.24 416.36 L625.01 416.28 L626.79 416.20 L628.57 416.12 L630.35 416.04 L632.14 415.96 L633.93 415.89 L635.73 415.81 L637.53 415.73 L639.33 415.65 L641.13 415.56 L642.94 415.48 L644.75 415.40 L646.57 415.32 L648.39 415.24 L650.21 415.16 L652.03 415.08 L653.86 414.99 L655.70 414.91 L657.53 414.83 L659.37 414.75 L661.22 414.66 L663.06 414.58 L664.91 414.50 L666.77 414.41 L668.62 414.33 L670.48 414.24 L672.35 414.16 L674.22 414.07 L676.09 413.99 L677.96 413.91 L679.84 413.82 L681.72 413.73 L683.61 413.65 L685.49 413.56 L687.39 413.48 L689.28 413.39 L691.18 413.31 L693.08 413.22 L694.99 413.13 L696.90 413.05 L698.81 412.96 L700.73 412.87 L702.65 412.78 L704.57 412.70 L706.50 412.61 L708.43 412.52 L710.36 412.43 L712.30 412.35 L714.24 412.26 L716.19 412.17 L718.14 412.08 L720.09 411.99 L722.04 411.91 L724.00 411.82 L725.96 411.73 L727.93 411.64 L729.90 411.55 L731.87 411.46 L733.85 411.37 L735.83 411.28 L737.81 411.19 L739.80 411.10 L741.79 411.01 L743.78 410.92 L745.78 410.83 L747.78 410.74 L749.78 410.65 L751.79 410.56 L753.80 410.47 L755.82 410.38 L757.84 410.29 L759.86 410.20 L761.88 410.11 L763.91 410.02 L765.95 409.93 L767.98 409.84 L770.02 409.75 L772.07 409.66 L774.11 409.57 L776.16 409.48 L778.22 409.39 L780.27 409.30 L782.34 409.21 L784.40 409.12" stroke="#0000ff" stroke-dasharray="1.3 5.283" stroke-dashoffset="-0.2"/>
<path d="M110.02 7.89 L110.02 7.89 L110.02 7.91 L110.02 7.94 L110.03 7.99 L110.03 8.05 L110.04 8.14 L110.05 8.23 L110.06 8.35 L110.07 8.49 L110.08 8.64 L110.09 8.82 L110.11 9.02 L110.12 9.23 L110.14 9.47 L110.16 9.73 L110.19 10.01 L110.21 10.31 L110.23 10.63 L110.26 10.97 L110.29 11.34 L110.32 11.73 L110.35 12.14 L110.39 12.57 L110.42 13.02 L110.46 13.50 L110.50 14.00 L110.54 14.52 L110.59 15.07 L110.63 15.64 L110.68 16.23 L110.73 16.84 L110.78 17.48 L110.84 18.14 L110.89 18.82 L110.95 19.53 L111.01 20.25 L111.07 21.00 L111.13 21.78 L111.20 22.57 L111.27 23.39 L111.33 24.23 L111.41 25.09 L111.48 25.97 L111.56 26.88 L111.63 27.81 L111.71 28.76 L111.80 29.73 L111.88 30.72 L111.97 31.74 L112.06 32.77 L112.15 33.83 L112.24 34.90 L112.33 36.00 L112.43 37.12 L112.53 38.26 L112.63 39.41 L112.74 40.59 L112.84 41.79 L112.95 43.01 L113.06 44.24 L113.17 45.50 L113.29 46.77 L113.40 48.06 L113.52 49.37 L113.65 50.70 L113.77 52.05 L113.90 53.41 L114.02 54.79 L114.15 56.19 L114.29 57.60 L114.42 59.03 L114.56 60.48 L114.70 61.94 L114.84 63.42 L114.99 64.91 L115.13 66.41 L115.28 67.94 L115.43 69.47 L115.59 71.02 L115.75 72.59 L115.90 74.16 L116.06 75.75 L116.23 77.36 L116.39 78.97 L116.56 80.60 L116.73 82.24 L116.91 83.89 L117.08 85.55 L117.26 87.22 L117.44 88.91 L117.62 90.60 L117.81 92.30 L117.99 94.02 L118.18 95.74 L118.38 97.47 L118.57 99.21 L118.77 100.96 L118.97 102.71 L119.17 104.48 L119.37 106.25 L119.58 108.03 L119.79 109.82 L120.00 111.61 L120.22 113.41 L120.43 115.21 L120.65 117.02 L120.88 118.84 L121.10 120.66 L121.33 122.48 L121.56 124.31 L121.79 126.15 L122.02 127.98 L122.26 129.82 L122.50 131.67 L122.74 133.52 L122.99 135.37 L123.23 137.22 L123.48 139.07 L123.74 140.93 L123.99 142.79 L124.25 144.65 L124.51 146.51 L124.77 148.37 L125.04 150.24 L125.30 152.10 L125.57 153.96 L125.85 155.83 L126.12 157.69 L126.40 159.55 L126.68 161.41 L126.96 163.27 L127.25 165.13 L127.54 166.99 L127.83 168.85 L128.12 170.70 L128.42 172.55 L128.72 174.40 L129.02 176.25 L129.32 178.09 L129.63 179.94 L129.94 181.77 L130.25 183.61 L130.57 185.44 L130.89 187.27 L131.21 189.09 L131.53 190.91 L131.85 192.73 L132.18 194.54 L132.51 196.35 L132.85 198.15 L133.18 199.95 L133.52 201.74 L133.86 203.52 L134.21 205.31 L134.55 207.08 L134.90 208.85 L135.26 210.62 L135.61 212.38 L135.97 214.13 L136.33 215.88 L136.69 217.62 L137.06 219.35 L137.43 221.08 L137.80 222.80 L138.17 224.51 L138.55 226.22 L138.93 227.92 L139.31 229.62 L139.70 231.30 L140.08 232.98 L140.47 234.65 L140.87 236.32 L141.26 237.97 L141.66 239.62 L142.06 241.27 L142.47 242.90 L142.87 244.53 L143.28 246.14 L143.70 247.75 L144.11 249.36 L144.53 250.95 L144.95 252.54 L145.37 254.11 L145.80 255.68 L146.23 257.24 L146.66 258.80 L147.10 260.34 L147.53 261.88 L147.97 263.40 L148.42 264.92 L148.86 266.43 L149.31 267.94 L149.76 269.43 L150.22 270.91 L150.68 272.39 L151.14 273.85 L151.60 275.31 L152.06 276.76 L152.53 278.20 L153.00 279.63 L153.48 281.05 L153.96 282.47 L154.44 283.87 L154.92 285.27 L155.40 286.65 L155.89 288.03 L156.38 289.40 L156.88 290.76 L157.38 292.11 L157.88 293.45 L158.38 294.78 L158.88 296.11 L159.39 297.42 L159.90 298.73 L160.42 300.02 L160.94 301.31 L161.46 302.59 L161.98 303.86 L162.50 305.12 L163.03 306.37 L163.56 307.61 L164.10 308.85 L164.64 310.07 L165.18 311.29 L165.72 312.49 L166.27 313.69 L166.81 314.88 L167.37 316.06 L167.92 317.23 L168.48 318.40 L169.04 319.55 L169.60 320.69 L170.17 321.83 L170.74 322.96 L171.31 324.08 L171.89 325.19 L172.46 326.29 L173.05 327.38 L173.63 328.46 L174.22 329.54 L174.81 330.61 L175.40 331.66 L176.00 332.71 L176.59 333.76 L177.20 334.79 L177.80 335.81 L178.41 336.83 L179.02 337.84 L179.63 338.84 L180.25 339.83 L180.87 340.81 L181.49 341.78 L182.12 342.75 L182.75 343.71 L183.38 344.66 L184.01 345.60 L184.65 346.53 L185.29 347.46 L185.93 348.38 L186.58 349.29 L187.23 350.19 L187.88 351.08 L188.54 351.97 L189.19 352.85 L189.85 353.72 L190.52 354.58 L191.19 355.44 L191.86 356.29 L192.53 357.13 L193.21 357.96 L193.89 358.79 L194.57 359.60 L195.25 360.41 L195.94 361.22 L196.63 362.01 L197.33 362.80 L198.02 363.58 L198.73 364.36 L199.43 365.12 L200.14 365.88 L200.84 366.63 L201.56 367.38 L202.27 368.12 L202.99 368.85 L203.71 369.57 L204.44 370.29 L205.17 371.00 L205.90 371.71 L206.63 372.40 L207.37 373.09 L208.11 373.78 L208.85 374.45 L209.60 375.12 L210.35 375.79 L211.10 376.45 L211.85 377.10 L212.61 377.74 L213.37 378.38 L214.14 379.01 L214.91 379.63 L215.68 380.25 L216.45 380.87 L217.23 381.47 L218.01 382.07 L218.79 382.67 L219.58 383.26 L220.37 383.84 L221.16 384.41 L221.95 384.98 L222.75 385.55 L223.55 386.11 L224.36 386.66 L225.17 387.21 L225.98 387.75 L226.79 388.28 L227.61 388.81 L228.43 389.34 L229.25 389.86 L230.08 390.37 L230.91 390.88 L231.74 391.38 L232.58 391.87 L233.42 392.37 L234.26 392.85 L235.10 393.33 L235.95 393.81 L236.80 394.28 L237.66 394.74 L238.51 395.20 L239.38 395.66 L240.24 396.11 L241.11 396.55 L241.98 396.99 L242.85 397.42 L243.73 397.85 L244.61 398.28 L245.49 398.70 L246.37 399.11 L247.26 399.52 L248.16 399.93 L249.05 400.33 L249.95 400.72 L250.85 401.11 L251.76 401.50 L252.66 401.88 L253.58 402.26 L254.49 402.63 L255.41 403.00 L256.33 403.37 L257.25 403.73 L258.18 404.08 L259.11 404.43 L260.04 404.78 L260.98 405.12 L261.92 405.46 L262.86 405.79 L263.81 406.12 L264.76 406.45 L265.71 406.77 L266.67 407.09 L267.62 407.40 L268.59 407.71 L269.55 408.02 L270.52 408.32 L271.49 408.61 L272.47 408.91 L273.45 409.20 L274.43 409.48 L275.41 409.77 L276.40 410.04 L277.39 410.32 L278.38 410.59 L279.38 410.86 L280.38 411.12 L281.39 411.38 L282.39 411.64 L283.40 411.89 L284.42 412.14 L285.43 412.39 L286.45 412.63 L287.48 412.87 L288.50 413.10 L289.53 413.34 L290.56 413.57 L291.60 413.79 L292.64 414.01 L293.68 414.23 L294.73 414.45 L295.78 414.66 L296.83 414.87 L297.88 415.08 L298.94 415.28 L300.00 415.48 L301.07 415.68 L302.14 415.87 L303.21 416.06 L304.28 416.25 L305.36 416.44 L306.44 416.62 L307.53 416.80 L308.62 416.97 L309.71 417.15 L310.80 417.32 L311.90 417.48 L313.00 417.65 L314.10 417.81 L315.21 417.97 L316.32 418.13 L317.44 418.28 L318.55 418.43 L319.68 418.58 L320.80 418.73 L321.93 418.87 L323.06 419.01 L324.19 419.15 L325.33 419.29 L326.47 419.42 L327.61 419.55 L328.76 419.68 L329.91 419.80 L331.06 419.93 L332.22 420.05 L333.38 420.17 L334.54 420.28 L335.71 420.40 L336.88 420.51 L338.05 420.62 L339.23 420.72 L340.41 420.83 L341.59 420.93 L342.78 421.03 L343.97 421.13 L345.16 421.23 L346.36 421.32 L347.56 421.41 L348.76 421.50 L349.97 421.59 L351.18 421.67 L352.39 421.76 L353.60 421.84 L354.82 421.92 L356.05 421.99 L357.27 422.07 L358.50 422.14 L359.74 422.21 L360.97 422.28 L362.21 422.35 L363.45 422.41 L364.70 422.48 L365.95 422.54 L367.20 422.60 L368.46 422.66 L369.72 422.71 L370.98 422.77 L372.25 422.82 L373.52 422.87 L374.79 422.92 L376.07 422.97 L377.35 423.01 L378.63 423.06 L379.92 423.10 L381.21 423.14 L382.50 423.18 L383.79 423.22 L385.09 423.25 L386.40 423.29 L387.70 423.32 L389.01 423.35 L390.33 423.38 L391.64 423.41 L392.96 423.43 L394.29 423.46 L395.61 423.48 L396.94 423.50 L398.28 423.53 L399.61 423.54 L400.95 423.56 L402.30 423.58 L403.64 423.59 L404.99 423.61 L406.35 423.62 L407.71 423.63 L409.07 423.64 L410.43 423.65 L411.80 423.65 L413.17 423.66 L414.54 423.66 L415.92 423.66 L417.30 423.66 L418.68 423.66 L420.07 423.66 L421.46 423.66 L422.86 423.66 L424.25 423.65 L425.66 423.65 L427.06 423.64 L428.47 423.63 L429.88 423.62 L431.29 423.61 L432.71 423.60 L434.13 423.59 L435.56 423.57 L436.99 423.56 L438.42 423.54 L439.85 423.52 L441.29 423.50 L442.73 423.49 L444.18 423.46 L445.63 423.44 L447.08 423.42 L448.54 423.40 L450.00 423.37 L451.46 423.35 L452.92 423.32 L454.39 423.29 L455.87 423.26 L457.34 423.23 L458.82 423.20 L460.31 423.17 L461.79 423.14 L463.28 423.11 L464.78 423.07 L466.27 423.04 L467.77 423.00 L469.28 422.96 L470.78 422.93 L472.29 422.89 L473.81 422.85 L475.33 422.81 L476.85 422.77 L478.37 422.73 L479.90 422.68 L481.43 422.64 L482.97 422.60 L484.50 422.55 L486.05 422.51 L487.59 422.46 L489.14 422.41 L490.69 422.36 L492.25 422.31 L493.81 422.26 L495.37 422.21 L496.93 422.16 L498.50 422.11 L500.08 422.06 L501.65 422.01 L503.23 421.95 L504.82 421.90 L506.40 421.84 L507.99 421.79 L509.59 421.73 L511.18 421.67 L512.78 421.62 L514.39 421.56 L515.99 421.50 L517.61 421.44 L519.22 421.38 L520.84 421.32 L522.46 421.26 L524.08 421.20 L525.71 421.13 L527.35 421.07 L528.98 421.01 L530.62 420.94 L532.26 420.88 L533.91 420.81 L535.56 420.75 L537.21 420.68 L538.87 420.61 L540.53 420.55 L542.19 420.48 L543.86 420.41 L545.53 420.34 L547.20 420.27 L548.88 420.20 L550.56 420.13 L552.24 420.06 L553.93 419.99 L555.62 419.92 L557.32 419.84 L559.02 419.77 L560.72 419.70 L562.42 419.63 L564.13 419.55 L565.84 419.48 L567.56 419.40 L569.28 419.33 L571.00 419.25 L572.73 419.17 L574.46 419.10 L576.19 419.02 L577.93 418.94 L579.67 418.87 L581.41 418.79 L583.16 418.71 L584.91 418.63 L586.67 418.55 L588.43 418.47 L590.19 418.39 L591.95 418.31 L593.72 418.23 L595.50 418.15 L597.27 418.07 L599.05 417.99 L600.83 417.91 L602.62 417.83 L604.41 417.74 L606.20 417.66 L608.00 417.58 L609.80 417.49 L611.61 417.41 L613.41 417.33 L615.23 417.24 L617.04 417.16 L618.86 417.07 L620.68 416.99 L622.51 416.90 L624.34 416.82 L626.17 416.73 L628.00 416.65 L629.84 416.56 L631.69 416.47 L633.53 416.39 L635.38 416.30 L637.24 416.21 L639.10 416.12 L640.96 416.04 L642.82 415.95 L644.69 415.86 L646.56 415.77 L648.44 415.68 L650.32 415.60 L652.20 415.51 L654.09 415.42 L655.98 415.33 L657.87 415.24 L659.77 415.15 L661.67 415.06 L663.57 414.97 L665.48 414.88 L667.39 414.79 L669.30 414.70 L671.22 414.61 L673.14 414.52 L675.07 414.42 L677.00 414.33 L678.93 414.24 L680.87 414.15 L682.81 414.06 L684.75 413.97 L686.70 413.87 L688.65 413.78 L690.60 413.69 L692.56 413.60 L694.52 413.50 L696.49 413.41 L698.46 413.32 L700.43 413.23 L702.40 413.13 L704.38 413.04 L706.37 412.95 L708.35 412.85 L710.34 412.76 L712.34 412.67 L714.33 412.57 L716.33 412.48 L718.34 412.39 L720.35 412.29 L722.36 412.20 L724.38 412.10 L726.39 412.01 L728.42 411.91 L730.44 411.82 L732.47 411.73 L734.51 411.63 L736.54 411.54 L738.58 411.44 L740.63 411.35 L742.68 411.25 L744.73 411.16 L746.78 411.06 L748.84 410.97 L750.91 410.87 L752.97 410.78 L755.04 410.68 L757.11 410.59 L759.19 410.49 L761.27 410.40 L763.36 410.30 L765.44 410.21 L767.54 410.11 L769.63 410.01 L771.73 409.92 L773.83 409.82 L775.94 409.73 L778.05 409.63 L780.16 409.54 L782.28 409.44 L784.40 409.35" stroke="#ff8000" stroke-dasharray="1.3 5.265 5.265 5.265" stroke-dashoffset="-0.2"/>
<path d="M75.10 7.89 L75.10 7.89 L75.10 7.91 L75.10 7.95 L75.11 7.99 L75.11 8.06 L75.12 8.14 L75.13 8.25 L75.14 8.37 L75.15 8.51 L75.16 8.67 L75.18 8.85 L75.19 9.05 L75.21 9.28 L75.23 9.52 L75.25 9.79 L75.27 10.08 L75.30 10.39 L75.33 10.72 L75.35 11.08 L75.38 11.46 L75.42 11.86 L75.45 12.28 L75.49 12.73 L75.53 13.20 L75.57 13.69 L75.61 14.21 L75.65 14.75 L75.70 15.31 L75.75 15.90 L75.80 16.51 L75.85 17.15 L75.90 17.81 L75.96 18.49 L76.02 19.19 L76.08 19.92 L76.14 20.67 L76.20 21.45 L76.27 22.25 L76.34 23.07 L76.41 23.91 L76.48 24.78 L76.56 25.67 L76.64 26.58 L76.72 27.52 L76.80 28.48 L76.88 29.46 L76.97 30.46 L77.06 31.49 L77.15 32.54 L77.24 33.61 L77.34 34.70 L77.43 35.81 L77.53 36.94 L77.64 38.10 L77.74 39.27 L77.85 40.47 L77.96 41.68 L78.07 42.92 L78.18 44.17 L78.30 45.45 L78.42 46.75 L78.54 48.06 L78.66 49.39 L78.79 50.75 L78.91 52.12 L79.04 53.50 L79.18 54.91 L79.31 56.33 L79.45 57.77 L79.59 59.23 L79.73 60.71 L79.88 62.20 L80.02 63.71 L80.17 65.23 L80.32 66.77 L80.48 68.32 L80.64 69.89 L80.80 71.47 L80.96 73.07 L81.12 74.68 L81.29 76.31 L81.46 77.94 L81.63 79.59 L81.80 81.26 L81.98 82.93 L82.16 84.62 L82.34 86.32 L82.53 88.03 L82.71 89.76 L82.90 91.49 L83.10 93.23 L83.29 94.99 L83.49 96.75 L83.69 98.52 L83.89 100.30 L84.09 102.09 L84.30 103.89 L84.51 105.70 L84.72 107.51 L84.94 109.33 L85.16 111.16 L85.38 113.00 L85.60 114.84 L85.83 116.69 L86.05 118.54 L86.29 120.40 L86.52 122.27 L86.75 124.14 L86.99 126.01 L87.23 127.89 L87.48 129.78 L87.73 131.66 L87.97 133.55 L88.23 135.45 L88.48 137.34 L88.74 139.24 L89.00 141.14 L89.26 143.05 L89.53 144.95 L89.79 146.86 L90.07 148.77 L90.34 150.68 L90.62 152.59 L90.89 154.50 L91.18 156.41 L91.46 158.32 L91.75 160.22 L92.04 162.13 L92.33 164.04 L92.62 165.95 L92.92 167.85 L93.22 169.76 L93.53 171.66 L93.83 173.56 L94.14 175.46 L94.45 177.35 L94.77 179.25 L95.09 181.14 L95.41 183.02 L95.73 184.91 L96.05 186.79 L96.38 188.66 L96.71 190.54 L97.05 192.41 L97.38 194.27 L97.72 196.13 L98.07 197.99 L98.41 199.84 L98.76 201.68 L99.11 203.52 L99.46 205.36 L99.82 207.19 L100.18 209.01 L100.54 210.83 L100.91 212.64 L101.27 214.45 L101.64 216.25 L102.02 218.04 L102.39 219.83 L102.77 221.61 L103.15 223.39 L103.54 225.16 L103.93 226.92 L104.32 228.67 L104.71 230.42 L105.11 232.16 L105.51 233.89 L105.91 235.61 L106.31 237.33 L106.72 239.04 L107.13 240.74 L107.54 242.44 L107.96 244.12 L108.38 245.80 L108.80 247.47 L109.23 249.13 L109.66 250.78 L110.09 252.43 L110.52 254.06 L110.96 255.69 L111.40 257.31 L111.84 258.92 L112.29 260.53 L112.73 262.12 L113.19 263.70 L113.64 265.28 L114.10 266.85 L114.56 268.41 L115.02 269.96 L115.49 271.50 L115.96 273.03 L116.43 274.55 L116.90 276.06 L117.38 277.57 L117.86 279.06 L118.35 280.55 L118.83 282.02 L119.32 283.49 L119.82 284.95 L120.31 286.40 L120.81 287.84 L121.31 289.27 L121.82 290.69 L122.32 292.10 L122.83 293.50 L123.35 294.89 L123.87 296.28 L124.39 297.65 L124.91 299.01 L125.43 300.37 L125.96 301.71 L126.49 303.05 L127.03 304.38 L127.57 305.69 L128.11 307.00 L128.65 308.30 L129.20 309.59 L129.75 310.87 L130.30 312.14 L130.86 313.40 L131.42 314.65 L131.98 315.90 L132.54 317.13 L133.11 318.35 L133.68 319.57 L134.26 320.77 L134.84 321.97 L135.42 323.16 L136.00 324.33 L136.59 325.50 L137.18 326.66 L137.77 327.81 L138.36 328.95 L138.96 330.09 L139.57 331.21 L140.17 332.32 L140.78 333.43 L141.39 334.52 L142.00 335.61 L142.62 336.69 L143.24 337.76 L143.87 338.82 L144.49 339.87 L145.12 340.91 L145.76 341.95 L146.39 342.97 L147.03 343.99 L147.67 345.00 L148.32 345.99 L148.97 346.99 L149.62 347.97 L150.27 348.94 L150.93 349.91 L151.59 350.86 L152.26 351.81 L152.92 352.75 L153.59 353.68 L154.27 354.61 L154.94 355.52 L155.62 356.43 L156.31 357.33 L156.99 358.22 L157.68 359.10 L158.37 359.97 L159.07 360.84 L159.77 361.70 L160.47 362.55 L161.17 363.39 L161.88 364.23 L162.59 365.05 L163.31 365.87 L164.03 366.68 L164.75 367.49 L165.47 368.28 L166.20 369.07 L166.93 369.85 L167.66 370.63 L168.40 371.39 L169.14 372.15 L169.88 372.90 L170.63 373.65 L171.38 374.38 L172.13 375.11 L172.89 375.84 L173.65 376.55 L174.41 377.26 L175.17 377.96 L175.94 378.65 L176.71 379.34 L177.49 380.02 L178.27 380.69 L179.05 381.36 L179.83 382.02 L180.62 382.67 L181.41 383.32 L182.21 383.96 L183.01 384.59 L183.81 385.22 L184.61 385.84 L185.42 386.45 L186.23 387.06 L187.04 387.66 L187.86 388.25 L188.68 388.84 L189.50 389.42 L190.33 389.99 L191.16 390.56 L191.99 391.13 L192.83 391.68 L193.67 392.23 L194.51 392.78 L195.36 393.32 L196.21 393.85 L197.06 394.38 L197.92 394.90 L198.78 395.41 L199.64 395.92 L200.51 396.42 L201.38 396.92 L202.25 397.41 L203.12 397.90 L204.00 398.38 L204.89 398.86 L205.77 399.33 L206.66 399.79 L207.55 400.25 L208.45 400.71 L209.35 401.15 L210.25 401.60 L211.15 402.03 L212.06 402.47 L212.97 402.90 L213.89 403.32 L214.81 403.74 L215.73 404.15 L216.66 404.55 L217.58 404.96 L218.52 405.35 L219.45 405.75 L220.39 406.13 L221.33 406.52 L222.28 406.90 L223.22 407.27 L224.18 407.64 L225.13 408.00 L226.09 408.36 L227.05 408.72 L228.02 409.07 L228.98 409.41 L229.96 409.75 L230.93 410.09 L231.91 410.42 L232.89 410.75 L233.88 411.07 L234.87 411.39 L235.86 411.71 L236.85 412.02 L237.85 412.32 L238.85 412.63 L239.86 412.93 L240.87 413.22 L241.88 413.51 L242.89 413.80 L243.91 414.08 L244.93 414.36 L245.96 414.63 L246.99 414.90 L248.02 415.17 L249.06 415.43 L250.09 415.69 L251.14 415.94 L252.18 416.19 L253.23 416.44 L254.28 416.68 L255.34 416.92 L256.40 417.16 L257.46 417.39 L258.53 417.62 L259.60 417.85 L260.67 418.07 L261.74 418.29 L262.82 418.51 L263.91 418.72 L264.99 418.93 L266.08 419.13 L267.18 419.33 L268.27 419.53 L269.37 419.73 L270.47 419.92 L271.58 420.11 L272.69 420.29 L273.81 420.48 L274.92 420.66 L276.04 420.83 L277.17 421.01 L278.29 421.18 L279.42 421.34 L280.56 421.51 L281.70 421.67 L282.84 421.83 L283.98 421.98 L285.13 422.13 L286.28 422.28 L287.43 422.43 L288.59 422.58 L289.75 422.72 L290.92 422.86 L292.09 422.99 L293.26 423.12 L294.43 423.25 L295.61 423.38 L296.79 423.51 L297.98 423.63 L299.17 423.75 L300.36 423.87 L301.56 423.98 L302.76 424.09 L303.96 424.20 L305.17 424.31 L306.37 424.42 L307.59 424.52 L308.80 424.62 L310.02 424.72 L311.25 424.81 L312.48 424.90 L313.71 424.99 L314.94 425.08 L316.18 425.17 L317.42 425.25 L318.66 425.33 L319.91 425.41 L321.16 425.49 L322.42 425.57 L323.67 425.64 L324.94 425.71 L326.20 425.78 L327.47 425.84 L328.74 425.91 L330.02 425.97 L331.30 426.03 L332.58 426.09 L333.87 426.15 L335.16 426.20 L336.45 426.25 L337.75 426.30 L339.05 426.35 L340.35 426.40 L341.66 426.44 L342.97 426.49 L344.28 426.53 L345.60 426.57 L346.92 426.60 L348.25 426.64 L349.57 426.67 L350.91 426.71 L352.24 426.74 L353.58 426.77 L354.92 426.79 L356.27 426.82 L357.62 426.84 L358.97 426.86 L360.33 426.88 L361.69 426.90 L363.05 426.92 L364.42 426.94 L365.79 426.95 L367.16 426.96 L368.54 426.97 L369.92 426.98 L371.31 426.99 L372.70 427.00 L374.09 427.00 L375.48 427.01 L376.88 427.01 L378.28 427.01 L379.69 427.01 L381.10 427.01 L382.51 427.00 L383.93 427.00 L385.35 426.99 L386.77 426.98 L388.20 426.97 L389.63 426.96 L391.07 426.95 L392.50 426.94 L393.95 426.93 L395.39 426.91 L396.84 426.89 L398.29 426.88 L399.75 426.86 L401.21 426.84 L402.67 426.82 L404.14 426.79 L405.61 426.77 L407.08 426.74 L408.56 426.72 L410.04 426.69 L411.52 426.66 L413.01 426.63 L414.50 426.60 L416.00 426.57 L417.50 426.54 L419.00 426.50 L420.50 426.47 L422.01 426.43 L423.53 426.40 L425.04 426.36 L426.56 426.32 L428.09 426.28 L429.61 426.24 L431.15 426.20 L432.68 426.16 L434.22 426.11 L435.76 426.07 L437.31 426.02 L438.86 425.97 L440.41 425.93 L441.96 425.88 L443.52 425.83 L445.09 425.78 L446.65 425.73 L448.23 425.68 L449.80 425.62 L451.38 425.57 L452.96 425.52 L454.54 425.46 L456.13 425.41 L457.73 425.35 L459.32 425.29 L460.92 425.23 L462.53 425.18 L464.13 425.12 L465.74 425.05 L467.36 424.99 L468.97 424.93 L470.60 424.87 L472.22 424.81 L473.85 424.74 L475.48 424.68 L477.12 424.61 L478.76 424.55 L480.40 424.48 L482.05 424.41 L483.70 424.34 L485.35 424.27 L487.01 424.20 L488.67 424.13 L490.34 424.06 L492.01 423.99 L493.68 423.92 L495.36 423.85 L497.04 423.78 L498.72 423.70 L500.41 423.63 L502.10 423.55 L503.79 423.48 L505.49 423.40 L507.19 423.33 L508.90 423.25 L510.61 423.17 L512.32 423.09 L514.03 423.01 L515.75 422.94 L517.48 422.86 L519.21 422.78 L520.94 422.70 L522.67 422.61 L524.41 422.53 L526.15 422.45 L527.90 422.37 L529.65 422.29 L531.40 422.20 L533.16 422.12 L534.92 422.04 L536.68 421.95 L538.45 421.87 L540.22 421.78 L542.00 421.69 L543.78 421.61 L545.56 421.52 L547.35 421.43 L549.14 421.35 L550.93 421.26 L552.73 421.17 L554.53 421.08 L556.33 420.99 L558.14 420.90 L559.95 420.81 L561.77 420.73 L563.59 420.63 L565.41 420.54 L567.24 420.45 L569.07 420.36 L570.90 420.27 L572.74 420.18 L574.58 420.09 L576.43 419.99 L578.28 419.90 L580.13 419.81 L581.99 419.71 L583.85 419.62 L585.71 419.53 L587.58 419.43 L589.45 419.34 L591.33 419.24 L593.21 419.15 L595.09 419.05 L596.98 418.96 L598.87 418.86 L600.76 418.77 L602.66 418.67 L604.56 418.57 L606.47 418.48 L608.37 418.38 L610.29 418.28 L612.20 418.18 L614.12 418.09 L616.05 417.99 L617.97 417.89 L619.91 417.79 L621.84 417.69 L623.78 417.60 L625.72 417.50 L627.67 417.40 L629.62 417.30 L631.57 417.20 L633.53 417.10 L635.49 417.00 L637.46 416.90 L639.43 416.80 L641.40 416.70 L643.37 416.60 L645.35 416.50 L647.34 416.40 L649.33 416.30 L651.32 416.20 L653.31 416.10 L655.31 415.99 L657.31 415.89 L659.32 415.79 L661.33 415.69 L663.34 415.59 L665.36 415.49 L667.38 415.38 L669.41 415.28 L671.44 415.18 L673.47 415.08 L675.51 414.98 L677.55 414.87 L679.59 414.77 L681.64 414.67 L683.69 414.57 L685.75 414.46 L687.80 414.36 L689.87 414.26 L691.93 414.15 L694.00 414.05 L696.08 413.95 L698.16 413.84 L700.24 413.74 L702.32 413.64 L704.41 413.53 L706.51 413.43 L708.60 413.33 L710.71 413.22 L712.81 413.12 L714.92 413.02 L717.03 412.91 L719.15 412.81 L721.27 412.70 L723.39 412.60 L725.52 412.50 L727.65 412.39 L729.78 412.29 L731.92 412.18 L734.07 412.08 L736.21 411.98 L738.36 411.87 L740.52 411.77 L742.67 411.66 L744.84 411.56 L747.00 411.46 L749.17 411.35 L751.34 411.25 L753.52 411.14 L755.70 411.04 L757.89 410.94 L760.08 410.83 L762.27 410.73 L764.46 410.62 L766.66 410.52 L768.87 410.41 L771.07 410.31 L773.29 410.21 L775.50 410.10 L777.72 410.00 L779.94 409.89 L782.17 409.79 L784.40 409.69" stroke="#00ff00" stroke-dasharray="1.3 5.283" stroke-dashoffset="-0.5"/>
</g>
<g stroke="#7a7a7a" stroke-width="1" fill="none">
<line x1="62.55" y1="7.89" x2="62.55" y2="454.18"/>
<line x1="784.40" y1="7.89" x2="784.40" y2="454.18" stroke-width="0.65"/>
<line x1="62.55" y1="447.52" x2="67.25" y2="447.52" stroke-width="0.8"/>
<line x1="784.40" y1="447.52" x2="779.70" y2="447.52" stroke-width="0.65"/>
<line x1="62.55" y1="434.19" x2="67.25" y2="434.19" stroke-width="0.8"/>
<line x1="784.40" y1="434.19" x2="779.70" y2="434.19" stroke-width="0.65"/>
<line x1="62.55" y1="420.87" x2="67.25" y2="420.87" stroke-width="0.8"/>
<line x1="784.40" y1="420.87" x2="779.70" y2="420.87" stroke-width="0.65"/>
<line x1="62.55" y1="407.55" x2="70.15" y2="407.55" stroke-width="0.8"/>
<line x1="784.40" y1="407.55" x2="776.80" y2="407.55" stroke-width="0.65"/>
<line x1="62.55" y1="394.23" x2="67.25" y2="394.23" stroke-width="0.8"/>
<line x1="784.40" y1="394.23" x2="779.70" y2="394.23" stroke-width="0.65"/>
<line x1="62.55" y1="380.91" x2="67.25" y2="380.91" stroke-width="0.8"/>
<line x1="784.40" y1="380.91" x2="779.70" y2="380.91" stroke-width="0.65"/>
<line x1="62.55" y1="367.58" x2="67.25" y2="367.58" stroke-width="0.8"/>
<line x1="784.40" y1="367.58" x2="779.70" y2="367.58" stroke-width="0.65"/>
<line x1="62.55" y1="354.26" x2="67.25" y2="354.26" stroke-width="0.8"/>
<line x1="784.40" y1="354.26" x2="779.70" y2="354.26" stroke-width="0.65"/>
<line x1="62.55" y1="340.94" x2="70.15" y2="340.94" stroke-width="0.8"/>
<line x1="784.40" y1="340.94" x2="776.80" y2="340.94" stroke-width="0.65"/>
<line x1="62.55" y1="327.62" x2="67.25" y2="327.62" stroke-width="0.8"/>
<line x1="784.40" y1="327.62" x2="779.70" y2="327.62" stroke-width="0.65"/>
<line x1="62.55" y1="314.30" x2="67.25" y2="314.30" stroke-width="0.8"/>
<line x1="784.40" y1="314.30" x2="779.70" y2="314.30" stroke-width="0.65"/>
<line x1="62.55" y1="300.97" x2="67.25" y2="300.97" stroke-width="0.8"/>
<line x1="784.40" y1="300.97" x2="779.70" y2="300.97" stroke-width="0.65"/>
<line x1="62.55" y1="287.65" x2="67.25" y2="287.65" stroke-width="0.8"/>
<line x1="784.40" y1="287.65" x2="779.70" y2="287.65" stroke-width="0.65"/>
<line x1="62.55" y1="274.33" x2="70.15" y2="274.33" stroke-width="0.8"/>
<line x1="784.40" y1="274.33" x2="776.80" y2="274.33" stroke-width="0.65"/>
<line x1="62.55" y1="261.01" x2="67.25" y2="261.01" stroke-width="0.8"/>
<line x1="784.40" y1="261.01" x2="779.70" y2="261.01" stroke-width="0.65"/>
<line x1="62.55" y1="247.69" x2="67.25" y2="247.69" stroke-width="0.8"/>
<line x1="784.40" y1="247.69" x2="779.70" y2="247.69" stroke-width="0.65"/>
<line x1="62.55" y1="234.36" x2="67.25" y2="234.36" stroke-width="0.8"/>
<line x1="784.40" y1="234.36" x2="779.70" y2="234.36" stroke-width="0.65"/>
<line x1="62.55" y1="221.04" x2="67.25" y2="221.04" stroke-width="0.8"/>
<line x1="784.40" y1="221.04" x2="779.70" y2="221.04" stroke-width="0.65"/>
<line x1="62.55" y1="207.72" x2="70.15" y2="207.72" stroke-width="0.8"/>
<line x1="784.40" y1="207.72" x2="776.80" y2="207.72" stroke-width="0.65"/>
<line x1="62.55" y1="194.40" x2="67.25" y2="194.40" stroke-width="0.8"/>
<line x1="784.40" y1="194.40" x2="779.70" y2="194.40" stroke-width="0.65"/>
<line x1="62.55" y1="181.08" x2="67.25" y2="181.08" stroke-width="0.8"/>
<line x1="784.40" y1="181.08" x2="779.70" y2="181.08" stroke-width="0.65"/>
<line x1="62.55" y1="167.75" x2="67.25" y2="167.75" stroke-width="0.8"/>
<line x1="784.40" y1="167.75" x2="779.70" y2="167.75" stroke-width="0.65"/>
<line x1="62.55" y1="154.43" x2="67.25" y2="154.43" stroke-width="0.8"/>
<line x1="784.40" y1="154.43" x2="779.70" y2="154.43" stroke-width="0.65"/>
<line x1="62.55" y1="141.11" x2="70.15" y2="141.11" stroke-width="0.8"/>
<line x1="784.40" y1="141.11" x2="776.80" y2="141.11" stroke-width="0.65"/>
<line x1="62.55" y1="127.79" x2="67.25" y2="127.79" stroke-width="0.8"/>
<line x1="784.40" y1="127.79" x2="779.70" y2="127.79" stroke-width="0.65"/>
<line x1="62.55" y1="114.47" x2="67.25" y2="114.47" stroke-width="0.8"/>
<line x1="784.40" y1="114.47" x2="779.70" y2="114.47" stroke-width="0.65"/>
<line x1="62.55" y1="101.14" x2="67.25" y2="101.14" stroke-width="0.8"/>
<line x1="784.40" y1="101.14" x2="779.70" y2="101.14" stroke-width="0.65"/>
<line x1="62.55" y1="87.82" x2="67.25" y2="87.82" stroke-width="0.8"/>
<line x1="784.40" y1="87.82" x2="779.70" y2="87.82" stroke-width="0.65"/>
<line x1="62.55" y1="74.50" x2="70.15" y2="74.50" stroke-width="0.8"/>
<line x1="784.40" y1="74.50" x2="776.80" y2="74.50" stroke-width="0.65"/>
<line x1="62.55" y1="61.18" x2="67.25" y2="61.18" stroke-width="0.8"/>
<line x1="784.40" y1="61.18" x2="779.70" y2="61.18" stroke-width="0.65"/>
<line x1="62.55" y1="47.86" x2="67.25" y2="47.86" stroke-width="0.8"/>
<line x1="784.40" y1="47.86" x2="779.70" y2="47.86" stroke-width="0.65"/>
<line x1="62.55" y1="34.53" x2="67.25" y2="34.53" stroke-width="0.8"/>
<line x1="784.40" y1="34.53" x2="779.70" y2="34.53" stroke-width="0.65"/>
<line x1="62.55" y1="21.21" x2="67.25" y2="21.21" stroke-width="0.8"/>
<line x1="784.40" y1="21.21" x2="779.70" y2="21.21" stroke-width="0.65"/>
</g>
<g stroke="#000" stroke-width="2.8" fill="none" stroke-linecap="butt">
<line x1="61.00" y1="8.19" x2="785.60" y2="8.19"/>
<line x1="61.00" y1="454.33" x2="785.60" y2="454.33"/>
<line x1="75.38" y1="8.19" x2="75.38" y2="12.89"/>
<line x1="75.38" y1="454.33" x2="75.38" y2="449.63"/>
<line x1="101.64" y1="8.19" x2="101.64" y2="12.89"/>
<line x1="101.64" y1="454.33" x2="101.64" y2="449.63"/>
<line x1="127.90" y1="8.19" x2="127.90" y2="15.79"/>
<line x1="127.90" y1="454.33" x2="127.90" y2="446.73"/>
<line x1="154.16" y1="8.19" x2="154.16" y2="12.89"/>
<line x1="154.16" y1="454.33" x2="154.16" y2="449.63"/>
<line x1="180.42" y1="8.19" x2="180.42" y2="12.89"/>
<line x1="180.42" y1="454.33" x2="180.42" y2="449.63"/>
<line x1="206.68" y1="8.19" x2="206.68" y2="12.89"/>
<line x1="206.68" y1="454.33" x2="206.68" y2="449.63"/>
<line x1="232.94" y1="8.19" x2="232.94" y2="12.89"/>
<line x1="232.94" y1="454.33" x2="232.94" y2="449.63"/>
<line x1="259.20" y1="8.19" x2="259.20" y2="15.79"/>
<line x1="259.20" y1="454.33" x2="259.20" y2="446.73"/>
<line x1="285.46" y1="8.19" x2="285.46" y2="12.89"/>
<line x1="285.46" y1="454.33" x2="285.46" y2="449.63"/>
<line x1="311.72" y1="8.19" x2="311.72" y2="12.89"/>
<line x1="311.72" y1="454.33" x2="311.72" y2="449.63"/>
<line x1="337.98" y1="8.19" x2="337.98" y2="12.89"/>
<line x1="337.98" y1="454.33" x2="337.98" y2="449.63"/>
<line x1="364.24" y1="8.19" x2="364.24" y2="12.89"/>
<line x1="364.24" y1="454.33" x2="364.24" y2="449.63"/>
<line x1="390.50" y1="8.19" x2="390.50" y2="15.79"/>
<line x1="390.50" y1="454.33" x2="390.50" y2="446.73"/>
<line x1="416.76" y1="8.19" x2="416.76" y2="12.89"/>
<line x1="416.76" y1="454.33" x2="416.76" y2="449.63"/>
<line x1="443.02" y1="8.19" x2="443.02" y2="12.89"/>
<line x1="443.02" y1="454.33" x2="443.02" y2="449.63"/>
<line x1="469.28" y1="8.19" x2="469.28" y2="12.89"/>
<line x1="469.28" y1="454.33" x2="469.28" y2="449.63"/>
<line x1="495.54" y1="8.19" x2="495.54" y2="12.89"/>
<line x1="495.54" y1="454.33" x2="495.54" y2="449.63"/>
<line x1="521.80" y1="8.19" x2="521.80" y2="15.79"/>
<line x1="521.80" y1="454.33" x2="521.80" y2="446.73"/>
<line x1="548.06" y1="8.19" x2="548.06" y2="12.89"/>
<line x1="548.06" y1="454.33" x2="548.06" y2="449.63"/>
<line x1="574.32" y1="8.19" x2="574.32" y2="12.89"/>
<line x1="574.32" y1="454.33" x2="574.32" y2="449.63"/>
<line x1="600.58" y1="8.19" x2="600.58" y2="12.89"/>
<line x1="600.58" y1="454.33" x2="600.58" y2="449.63"/>
<line x1="626.84" y1="8.19" x2="626.84" y2="12.89"/>
<line x1="626.84" y1="454.33" x2="626.84" y2="449.63"/>
<line x1="653.10" y1="8.19" x2="653.10" y2="15.79"/>
<line x1="653.10" y1="454.33" x2="653.10" y2="446.73"/>
<line x1="679.36" y1="8.19" x2="679.36" y2="12.89"/>
<line x1="679.36" y1="454.33" x2="679.36" y2="449.63"/>
<line x1="705.62" y1="8.19" x2="705.62" y2="12.89"/>
<line x1="705.62" y1="454.33" x2="705.62" y2="449.63"/>
<line x1="731.88" y1="8.19" x2="731.88" y2="12.89"/>
<line x1="731.88" y1="454.33" x2="731.88" y2="449.63"/>
<line x1="758.14" y1="8.19" x2="758.14" y2="12.89"/>
<line x1="758.14" y1="454.33" x2="758.14" y2="449.63"/>
<line x1="784.40" y1="8.19" x2="784.40" y2="15.79"/>
<line x1="784.40" y1="454.33" x2="784.40" y2="446.73"/>
</g>
<text transform="translate(32.90,414.75) scale(1,1.05)" font-size="18.2" text-anchor="start">0</text>
<text transform="translate(43.02,414.75) scale(1,1.05)" font-size="18.2" text-anchor="start">.</text>
<text transform="translate(48.08,414.75) scale(1,1.05)" font-size="18.2" text-anchor="start">9</text>
<path d="M763 0H583V1147Q518 1085 412.5 1023Q307 961 223 930V1104Q374 1175 487 1276Q600 1377 647 1472H763Z" transform="translate(33.20,347.24) scale(0.00889,-0.00902)" fill="#000" stroke="#000" stroke-width="0.12" vector-effect="non-scaling-stroke"/>
<text transform="translate(43.02,347.24) scale(1,1.05)" font-size="18.2" text-anchor="start">.</text>
<text transform="translate(48.08,347.24) scale(1,1.05)" font-size="18.2" text-anchor="start">0</text>
<path d="M763 0H583V1147Q518 1085 412.5 1023Q307 961 223 930V1104Q374 1175 487 1276Q600 1377 647 1472H763Z" transform="translate(33.20,281.03) scale(0.00889,-0.00902)" fill="#000" stroke="#000" stroke-width="0.12" vector-effect="non-scaling-stroke"/>
<text transform="translate(43.02,281.03) scale(1,1.05)" font-size="18.2" text-anchor="start">.</text>
<path d="M763 0H583V1147Q518 1085 412.5 1023Q307 961 223 930V1104Q374 1175 487 1276Q600 1377 647 1472H763Z" transform="translate(48.38,281.03) scale(0.00889,-0.00902)" fill="#000" stroke="#000" stroke-width="0.12" vector-effect="non-scaling-stroke"/>
<path d="M763 0H583V1147Q518 1085 412.5 1023Q307 961 223 930V1104Q374 1175 487 1276Q600 1377 647 1472H763Z" transform="translate(33.20,214.22) scale(0.00889,-0.00902)" fill="#000" stroke="#000" stroke-width="0.12" vector-effect="non-scaling-stroke"/>
<text transform="translate(43.02,214.22) scale(1,1.05)" font-size="18.2" text-anchor="start">.</text>
<text transform="translate(48.08,214.22) scale(1,1.05)" font-size="18.2" text-anchor="start">2</text>
<path d="M763 0H583V1147Q518 1085 412.5 1023Q307 961 223 930V1104Q374 1175 487 1276Q600 1377 647 1472H763Z" transform="translate(33.20,147.81) scale(0.00889,-0.00902)" fill="#000" stroke="#000" stroke-width="0.12" vector-effect="non-scaling-stroke"/>
<text transform="translate(43.02,147.81) scale(1,1.05)" font-size="18.2" text-anchor="start">.</text>
<text transform="translate(48.08,147.81) scale(1,1.05)" font-size="18.2" text-anchor="start">3</text>
<path d="M763 0H583V1147Q518 1085 412.5 1023Q307 961 223 930V1104Q374 1175 487 1276Q600 1377 647 1472H763Z" transform="translate(33.20,81.00) scale(0.00889,-0.00902)" fill="#000" stroke="#000" stroke-width="0.12" vector-effect="non-scaling-stroke"/>
<text transform="translate(43.02,81.00) scale(1,1.05)" font-size="18.2" text-anchor="start">.</text>
<text transform="translate(48.08,81.00) scale(1,1.05)" font-size="18.2" text-anchor="start">4</text>
<path d="M763 0H583V1147Q518 1085 412.5 1023Q307 961 223 930V1104Q374 1175 487 1276Q600 1377 647 1472H763Z" transform="translate(33.20,14.79) scale(0.00889,-0.00902)" fill="#000" stroke="#000" stroke-width="0.12" vector-effect="non-scaling-stroke"/>
<text transform="translate(43.02,14.79) scale(1,1.05)" font-size="18.2" text-anchor="start">.</text>
<text transform="translate(48.08,14.79) scale(1,1.05)" font-size="18.2" text-anchor="start">5</text>
<text transform="translate(127.85,474.80) scale(1,1.05)" font-size="18.2" text-anchor="middle">3</text>
<text transform="translate(259.15,474.80) scale(1,1.05)" font-size="18.2" text-anchor="middle">4</text>
<text transform="translate(390.45,474.80) scale(1,1.05)" font-size="18.2" text-anchor="middle">5</text>
<text transform="translate(521.75,474.80) scale(1,1.05)" font-size="18.2" text-anchor="middle">6</text>
<text transform="translate(653.05,474.80) scale(1,1.05)" font-size="18.2" text-anchor="middle">7</text>
<text transform="translate(784.35,474.80) scale(1,1.05)" font-size="18.2" text-anchor="middle">8</text>
<text x="423.5" y="504.8" font-size="17.6" text-anchor="middle">r</text>
<g transform="translate(20.2,241.4) rotate(-90)" stroke-width="0.1"><text x="0" y="0" font-size="19.4" font-style="italic" stroke-width="0.1" transform="scale(0.94,1)">E</text><text x="12.8" y="-9.6" font-size="12.5" stroke-width="0.1">2</text></g>
<g fill="none" stroke-width="6.9">
<line x1="585.50" y1="26.50" x2="631.90" y2="26.50" stroke="#000"/>
<line x1="585.50" y1="61.50" x2="631.90" y2="61.50" stroke="#ff0000" stroke-dasharray="5.26 5.26"/>
<line x1="585.50" y1="96.50" x2="631.40" y2="96.50" stroke="#0000ff" stroke-dasharray="1.3 5.283"/>
<line x1="585.50" y1="131.50" x2="631.90" y2="131.50" stroke="#ff8000" stroke-dasharray="1.3 5.265 5.265 5.265"/>
<line x1="585.50" y1="166.50" x2="631.40" y2="166.50" stroke="#00ff00" stroke-dasharray="1.3 5.283"/>
</g>
<text transform="translate(644.20,31.75) scale(1,1.03)" font-size="18.25" text-anchor="start">Sch</text>
<text transform="translate(644.95,66.30) scale(1,1)" font-size="17.9" text-anchor="start">RN</text>
<path d="M402 150 C 384 215, 352 300, 338 360 C 330 398, 346 416, 390 408 M 350 255 C 350 195, 315 157, 262 157 C 185 157, 128 240, 128 325 C 128 388, 158 423, 205 423 C 275 423, 350 340, 350 255 Z" transform="translate(642,86) scale(0.03559)" fill="none" stroke="#000" stroke-width="1.4" vector-effect="non-scaling-stroke" stroke-linecap="butt" stroke-linejoin="round"/>
<path d="M657.9 94.50H666.55M657.9 98.20H666.55" stroke="#000" stroke-width="1.35" fill="none"/>
<text transform="translate(667.90,101.25) scale(1,1.05)" font-size="18" text-anchor="start">0.3</text>
<path d="M402 150 C 384 215, 352 300, 338 360 C 330 398, 346 416, 390 408 M 350 255 C 350 195, 315 157, 262 157 C 185 157, 128 240, 128 325 C 128 388, 158 423, 205 423 C 275 423, 350 340, 350 255 Z" transform="translate(642,121) scale(0.03559)" fill="none" stroke="#000" stroke-width="1.4" vector-effect="non-scaling-stroke" stroke-linecap="butt" stroke-linejoin="round"/>
<path d="M657.9 129.50H666.55M657.9 133.20H666.55" stroke="#000" stroke-width="1.35" fill="none"/>
<text transform="translate(667.90,136.25) scale(1,1.05)" font-size="18" text-anchor="start">0.5</text>
<path d="M402 150 C 384 215, 352 300, 338 360 C 330 398, 346 416, 390 408 M 350 255 C 350 195, 315 157, 262 157 C 185 157, 128 240, 128 325 C 128 388, 158 423, 205 423 C 275 423, 350 340, 350 255 Z" transform="translate(642,156) scale(0.03559)" fill="none" stroke="#000" stroke-width="1.4" vector-effect="non-scaling-stroke" stroke-linecap="butt" stroke-linejoin="round"/>
<path d="M657.9 164.50H666.55M657.9 168.20H666.55" stroke="#000" stroke-width="1.35" fill="none"/>
<text transform="translate(667.90,171.25) scale(1,1.05)" font-size="18" text-anchor="start">0.8</text>
</svg>
</body></html>
